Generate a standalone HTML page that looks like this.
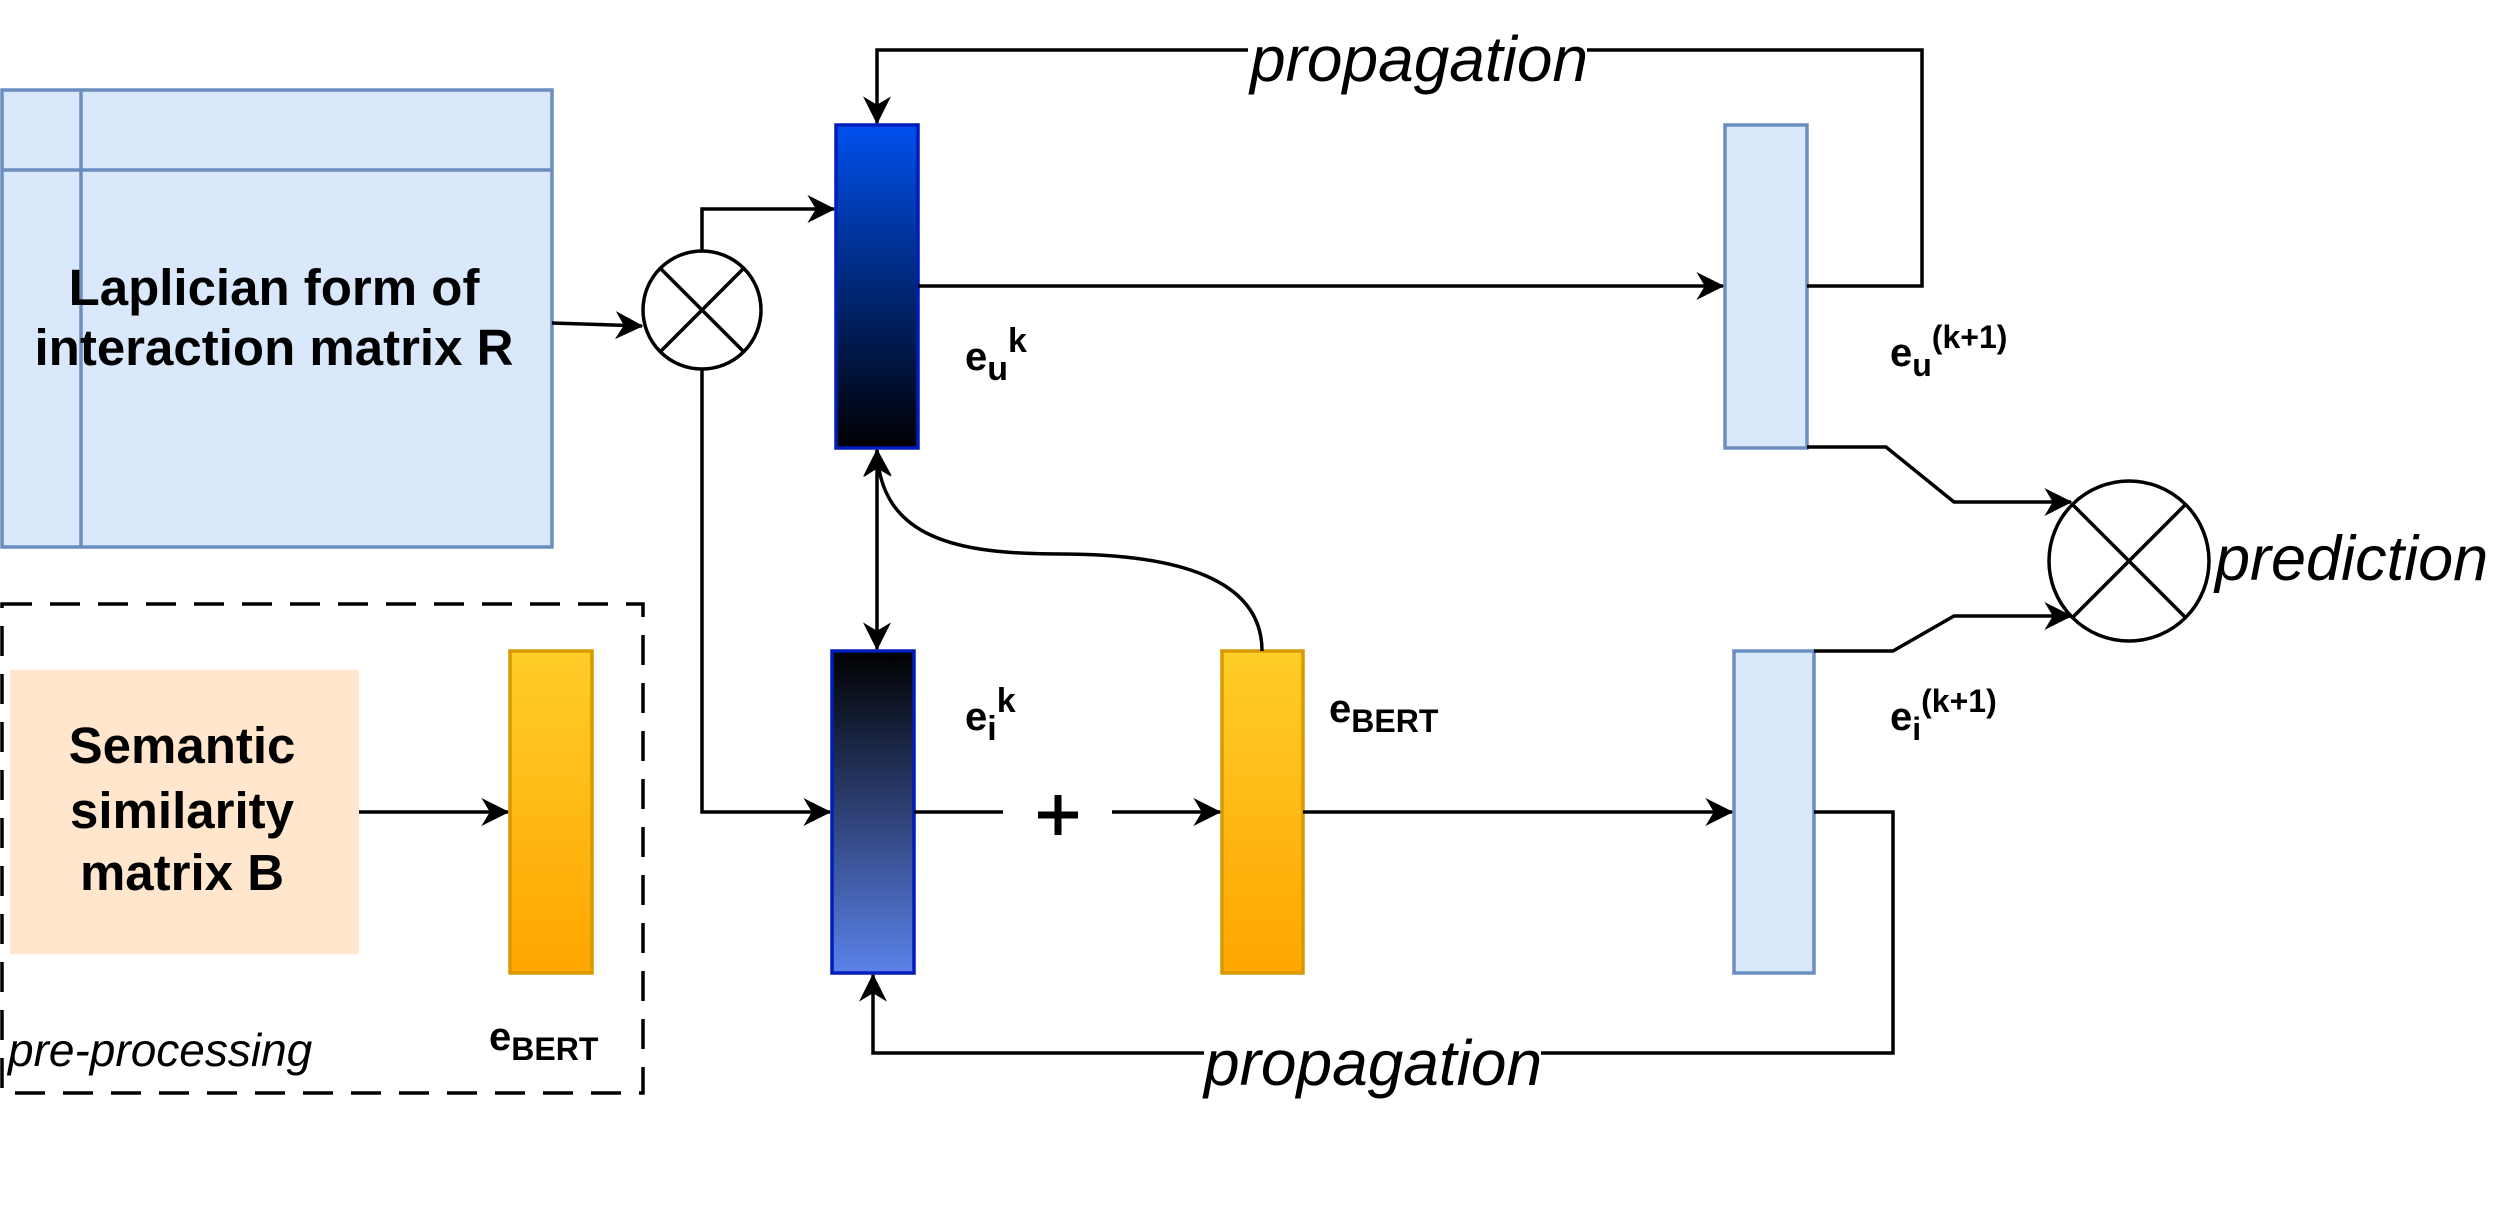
<!DOCTYPE html>
<html><head><meta charset="utf-8"><style>
html,body{margin:0;padding:0;background:#fff;}
svg{display:block;}
.b{font-family:"Liberation Sans",Arial,sans-serif;font-weight:bold;}
.i{font-family:"Liberation Sans",Arial,sans-serif;font-style:italic;}
</style></head><body>
<svg width="2496" height="1212" viewBox="0 0 2496 1212" xmlns="http://www.w3.org/2000/svg">
<defs>
<marker id="a" viewBox="0 0 20 20" refX="19" refY="10" markerWidth="30" markerHeight="28" markerUnits="userSpaceOnUse" orient="auto-start-reverse">
<path d="M0,0 L20,10 L0,20 L6,10 Z" fill="#000"/></marker>
<linearGradient id="gu" x1="0" y1="0" x2="0" y2="1"><stop offset="0" stop-color="#0050ef"/><stop offset="1" stop-color="#000"/></linearGradient>
<linearGradient id="gi" x1="0" y1="0" x2="0" y2="1"><stop offset="0" stop-color="#000"/><stop offset="1" stop-color="#5b82ea"/></linearGradient>
<linearGradient id="go" x1="0" y1="0" x2="0" y2="1"><stop offset="0" stop-color="#ffcd28"/><stop offset="1" stop-color="#ffa500"/></linearGradient>
</defs>
<g fill="none" stroke="#000" stroke-width="3.5">
<rect x="2" y="90" width="550" height="457" fill="#dae8fc" stroke="#6c8ebf"/>
<line x1="81" y1="90" x2="81" y2="547" stroke="#6c8ebf"/>
<line x1="2" y1="170" x2="552" y2="170" stroke="#6c8ebf"/>
<circle cx="702" cy="310" r="59" fill="#fff"/>
<line x1="660" y1="268" x2="744" y2="352"/><line x1="744" y1="268" x2="660" y2="352"/>
<path d="M552,323 L642,326" marker-end="url(#a)"/>
<path d="M702,251 L702,209 L834,209" marker-end="url(#a)"/>
<path d="M702,369 L702,812 L830,812" marker-end="url(#a)"/>
<rect x="2" y="604" width="641" height="489" stroke-dasharray="30,18"/>
<rect x="10" y="670" width="349" height="284" fill="#ffe6cc" stroke="none"/>
<path d="M359,812 L508,812" marker-end="url(#a)"/>
<rect x="510" y="651" width="82" height="322" fill="url(#go)" stroke="#d79b00"/>
<rect x="836" y="125" width="82" height="323" fill="url(#gu)" stroke="#001dbc"/>
<rect x="832" y="651" width="82" height="322" fill="url(#gi)" stroke="#001dbc"/>
<rect x="1222" y="651" width="81" height="322" fill="url(#go)" stroke="#d79b00"/>
<rect x="1725" y="125" width="82" height="323" fill="#dae8fc" stroke="#6c8ebf"/>
<rect x="1734" y="651" width="80" height="322" fill="#dae8fc" stroke="#6c8ebf"/>
<path d="M877,450 L877,649" marker-start="url(#a)" marker-end="url(#a)"/>
<path d="M1262,651 C1262,580 1180,554 1060,554 C960,554 880,540 877,450" marker-end="url(#a)"/>
<path d="M914,812 L1003,812"/>
<path d="M1112,812 L1220,812" marker-end="url(#a)"/>
<path d="M1303,812 L1732,812" marker-end="url(#a)"/>
<path d="M918,286 L1723,286" marker-end="url(#a)"/>
<path d="M1807,286 L1922,286 L1922,50 L1587,50 M1248,50 L877,50 L877,123" marker-end="url(#a)"/>
<path d="M1814,812 L1893,812 L1893,1053 L1541,1053 M1204,1053 L873,1053 L873,975" marker-end="url(#a)"/>
<path d="M1807,447 L1886,447 L1954,502 L2071,502" marker-end="url(#a)"/>
<path d="M1814,651 L1893,651 L1954,616 L2071,616" marker-end="url(#a)"/>
<circle cx="2129" cy="561" r="80" fill="#fff"/>
<line x1="2072" y1="504" x2="2186" y2="618"/><line x1="2186" y1="504" x2="2072" y2="618"/>
</g>
<path d="M1058,795 V835 M1038,815 H1078" stroke="#000" stroke-width="7"/>
<g class="b" fill="#000" text-anchor="middle" font-size="51">
<text x="274" y="305">Laplician form of</text>
<text x="274" y="365">interaction matrix R</text>
<text x="182" y="763">Semantic</text>
<text x="182" y="828">similarity</text>
<text x="182" y="890">matrix B</text>
</g>
<g class="b" fill="#000" font-size="40">
<text x="965" y="370">e<tspan font-size="34" dy="10">u</tspan><tspan font-size="34" dy="-28">k</tspan></text>
<text x="965" y="730">e<tspan font-size="34" dy="10">i</tspan><tspan font-size="34" dy="-28">k</tspan></text>
<text x="1329" y="722">e<tspan font-size="32" dy="10">BERT</tspan></text>
<text x="489" y="1050">e<tspan font-size="32" dy="10">BERT</tspan></text>
<text x="1890" y="366">e<tspan font-size="32" dy="10">u</tspan><tspan font-size="32" dy="-28">(k+1)</tspan></text>
<text x="1890" y="730">e<tspan font-size="32" dy="10">i</tspan><tspan font-size="32" dy="-28">(k+1)</tspan></text>
</g>
<g class="i" fill="#000">
<text x="1250" y="81" font-size="64">propagation</text>
<text x="1204" y="1085" font-size="64">propagation</text>
<text x="2215" y="580" font-size="63">prediction</text>
<text x="8" y="1066" font-size="46">pre-processing</text>
</g>
</svg>
</body></html>
